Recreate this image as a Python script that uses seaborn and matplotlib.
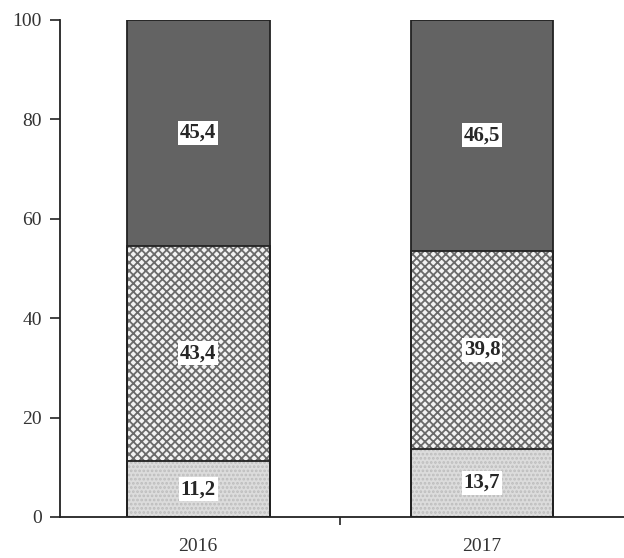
import numpy as np
import pandas as pd
import matplotlib
matplotlib.use('Agg')
import matplotlib.pyplot as plt
import seaborn as sns

# data (shares, %)
years = ['2016', '2017']
bottom_part = [11.2, 13.7]
middle_part = [43.4, 39.8]
top_part = [45.4, 46.5]
label_bottom = ['11,2', '13,7']
label_middle = ['43,4', '39,8']
label_top = ['45,4', '46,5']
y_ticks = [0, 20, 40, 60, 80, 100]

sns.set_style('white')
plt.rcParams['font.family'] = ['Liberation Serif', 'DejaVu Serif']
plt.rcParams['hatch.linewidth'] = 1.3

df = pd.DataFrame({'year': years, 'b': bottom_part, 'm': middle_part, 't': top_part})
df['cum_m'] = df['b'] + df['m']
df['cum_t'] = df['cum_m'] + df['t']

fig = plt.figure(figsize=(6.24, 5.58), dpi=100)
ax = fig.add_axes([0.096, 0.0735, 0.904, 0.891])

# overlay cumulative bars, tallest first
layers = [('cum_t', '#636363', None, '#3a3a3a'),
          ('cum_m', '#f2f2f2', 'xxxx', '#6a6a6a'),
          ('b', '#dcdcdc', '....', '#bdbdbd')]
for col, face, hatch, hcol in layers:
    n_before = len(ax.patches)
    sns.barplot(data=df, x='year', y=col, color=face, width=0.503,
                saturation=1, ax=ax, zorder=2)
    for p in ax.patches[n_before:]:
        p.set_facecolor(face)
        p.set_edgecolor(hcol)
        if hatch:
            p.set_hatch(hatch)
        p.set_linewidth(0)
        # black outline drawn separately
        ax.add_patch(plt.Rectangle(p.get_xy(), p.get_width(), p.get_height(),
                                   fill=False, edgecolor='#222222', lw=1.3, zorder=3))

# value labels in white boxes
box = dict(facecolor='white', edgecolor='none', pad=1.5)
for i in range(len(years)):
    ax.text(i, bottom_part[i] / 2, label_bottom[i], ha='center', va='center',
            fontsize=15, fontweight='bold', bbox=box, zorder=5)
    ax.text(i, bottom_part[i] + middle_part[i] / 2, label_middle[i], ha='center',
            va='center', fontsize=15, fontweight='bold', bbox=box, zorder=5)
    ax.text(i, bottom_part[i] + middle_part[i] + top_part[i] / 2, label_top[i],
            ha='center', va='center', fontsize=15, fontweight='bold', bbox=box, zorder=5)

ax.set_ylim(0, 100)
ax.set_xlim(-0.487, 1.5)
ax.set_yticks(y_ticks)
ax.set_yticklabels([str(v) for v in y_ticks], fontsize=14, color='#333333')
ax.set_xticks([0, 1])
ax.set_xticklabels(years, fontsize=14, color='#333333')
ax.set_xlabel('')
ax.set_ylabel('')
ax.tick_params(axis='x', length=0, pad=15)
ax.tick_params(axis='y', length=7, width=1.2, color='#222222', direction='out', pad=6, left=True)
# minor tick between the categories on the x axis
ax.set_xticks([0.5], minor=True)
ax.tick_params(axis='x', which='minor', length=6, width=1.2, color='#222222', direction='out', bottom=True)

sns.despine(ax=ax, top=True, right=True)
for s in ['left', 'bottom']:
    ax.spines[s].set_color('#222222')
    ax.spines[s].set_linewidth(1.3)

fig.savefig('out.png', dpi=100)
